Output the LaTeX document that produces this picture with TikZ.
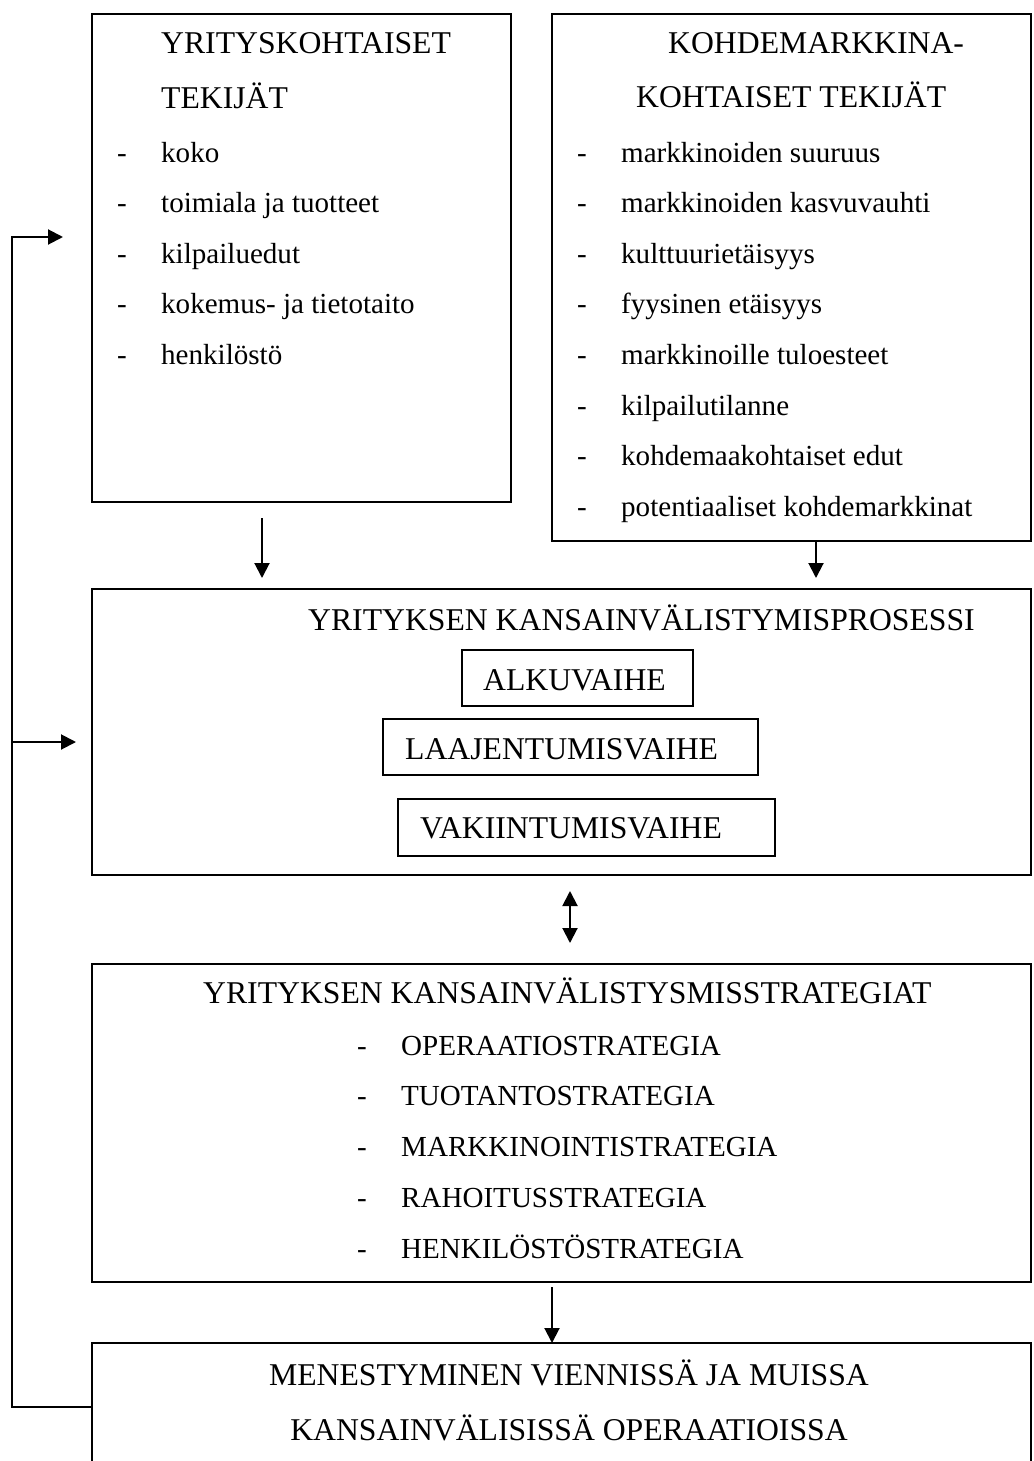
\documentclass[tikz,border=0pt]{standalone}
\usepackage{fontspec}
\setmainfont{Liberation Serif}
\usetikzlibrary{arrows.meta}

\newcommand\headfont{\fontsize{31.7}{38}\selectfont}
\newcommand\itemfont{\fontsize{29.07}{35}\selectfont}

\tikzset{
  frame/.style={draw, line width=2pt, inner sep=0pt, outer sep=0pt, anchor=north west},
  head/.style={anchor=base west, inner sep=0pt, font=\headfont},
  entry/.style={anchor=base west, inner sep=0pt, font=\itemfont},
  conn/.style={line width=2pt},
  arr/.style={conn, -{Triangle[length=15pt, width=15pt]}},
  dbl/.style={conn, {Triangle[length=15pt, width=15pt]}-{Triangle[length=15pt, width=15pt]}}
}

\begin{document}
\begin{tikzpicture}[x=1pt, y=-1pt]
\path[use as bounding box, clip] (0,0) rectangle (1033,1461);
\fill[white] (0,0) rectangle (1033,1461);

% --- company-specific factors ---
\node[frame, minimum width=419pt, minimum height=488pt] (yk) at (92,14) {};
\node[head] (ykh1) at (161,54) {YRITYSKOHTAISET};
\node[head] (ykh2) at (161,109) {TEKIJÄT};
\foreach \t [count=\i] in {koko, toimiala ja tuotteet, kilpailuedut,
    kokemus- ja tietotaito, henkilöstö} {
  \pgfmathsetmacro\b{162+50.5*(\i-1)}
  \node[entry] (ykd\i) at (117,\b) {-};
  \node[entry] (ykt\i) at (161,\b) {\t};
}

% --- target-market-specific factors ---
\node[frame, minimum width=479pt, minimum height=527pt] (kt) at (552,14) {};
\node[head] (kth1) at (668,54) {KOHDEMARKKINA-};
\node[head] (kth2) at (636,108) {KOHTAISET TEKIJÄT};
\foreach \t [count=\i] in {markkinoiden suuruus, markkinoiden kasvuvauhti,
    kulttuurietäisyys, fyysinen etäisyys, markkinoille tuloesteet,
    kilpailutilanne, kohdemaakohtaiset edut, potentiaaliset kohdemarkkinat} {
  \pgfmathsetmacro\b{162+50.6*(\i-1)}
  \node[entry] (ktd\i) at (577,\b) {-};
  \node[entry] (ktt\i) at (621,\b) {\t};
}

% --- internationalisation process ---
\node[frame, minimum width=939pt, minimum height=286pt] (proc) at (92,589) {};
\node[head] (proch) at (308,630) {YRITYKSEN KANSAINVÄLISTYMISPROSESSI};
\node[frame, minimum width=231pt, minimum height=56pt] (alku) at (462,650) {};
\node[head] (alkut) at (483,690) {ALKUVAIHE};
\node[frame, minimum width=375pt, minimum height=56pt] (laaj) at (383,719) {};
\node[head] (laajt) at (405,759) {LAAJENTUMISVAIHE};
\node[frame, minimum width=377pt, minimum height=57pt] (vak) at (398,799) {};
\node[head] (vakt) at (420,838) {VAKIINTUMISVAIHE};

% --- internationalisation strategies ---
\node[frame, minimum width=939pt, minimum height=318pt] (strat) at (92,964) {};
\node[head] (strath) at (203,1003) {YRITYKSEN KANSAINVÄLISTYSMISSTRATEGIAT};
\foreach \t [count=\i] in {OPERAATIOSTRATEGIA, TUOTANTOSTRATEGIA,
    MARKKINOINTISTRATEGIA, RAHOITUSSTRATEGIA, HENKILÖSTÖSTRATEGIA} {
  \pgfmathsetmacro\b{1055+50.8*(\i-1)}
  \node[entry] (std\i) at (357,\b) {-};
  \node[entry] (stt\i) at (401,\b) {\t};
}

% --- success ---
\node[frame, minimum width=939pt, minimum height=260pt] (res) at (92,1343) {};
\node[head, anchor=base] (resh1) at (569,1385) {MENESTYMINEN VIENNISSÄ JA MUISSA};
\node[head, anchor=base] (resh2) at (569,1440) {KANSAINVÄLISISSÄ OPERAATIOISSA};

% --- connectors ---
\coordinate (c1) at (262,518);
\coordinate (c2) at (816,0);
\coordinate (c3) at (570,0);
\coordinate (c4) at (552,0);
\coordinate (fb) at (12,1407);
\coordinate (fy1) at (0,237);
\coordinate (fy2) at (0,742);

\draw[arr, shorten >=11pt] (c1) -- (c1 |- proc.north);
\draw[arr, shorten >=11pt] (c2 |- kt.south) -- (c2 |- proc.north);
\draw[dbl, shorten <=16pt, shorten >=21pt] (c3 |- proc.south) -- (c3 |- strat.north);
\draw[arr, shorten <=5pt] (c4 |- strat.south) -- (c4 |- res.north);

% feedback loop
\draw[arr, shorten >=29pt] (res.west |- fb) -- (fb) |- (yk.west |- fy1);
\draw[arr, shorten >=16pt] (fb |- fy2) -- (proc.west |- fy2);
\end{tikzpicture}
\end{document}
